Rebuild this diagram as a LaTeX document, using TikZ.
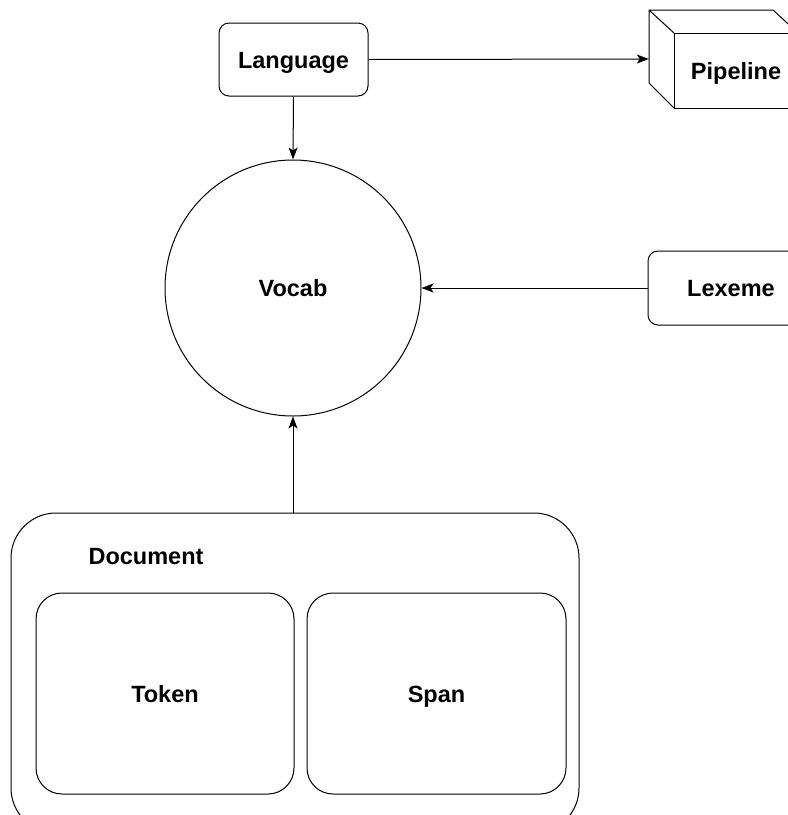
\documentclass[tikz,border=0pt]{standalone}
\usepackage{fontspec}
\setmainfont{Liberation Sans}
\usetikzlibrary{arrows.meta,shapes.geometric}
\tikzset{
  lbl/.style={font=\fontsize{23.5}{27}\selectfont\bfseries, text height=17pt, text depth=0pt},
  roundbox/.style={draw, line width=1pt, rounded corners=10pt, lbl},
  link/.style={draw, line width=1pt, -{Stealth[length=12pt,width=9pt,inset=3pt]}},
}
\begin{document}
\begin{tikzpicture}[x=1pt,y=-1pt]
\useasboundingbox (0,0) rectangle (788,815);
\clip (0,0) rectangle (788,815);
\fill[white] (0,0) rectangle (788,815);

% top row
\node[roundbox, minimum width=149pt, minimum height=73pt] (language) at (293.5,59.5) {Language};

% Pipeline drawn as a cube: back face offset up-left by 25pt
\node[minimum width=149pt, minimum height=98pt, inner sep=0] (pipeline) at (723.5,59) {};
\draw[line width=1pt, line join=round]
  (649,83) -- (649,10) -- (773,10) -- (798,33)
  (649,10) -- (674,33)
  (649,83) -- (674,108);
\node[draw, line width=1pt, minimum width=124pt, minimum height=75pt, lbl] (pipefront) at (736,70.5) {Pipeline};

% centre
\node[draw, circle, line width=1pt, minimum size=256pt, lbl] (vocab) at (293,288) {Vocab};
\node[roundbox, minimum width=164pt, minimum height=74pt] (lexeme) at (730,288) {};
\node[lbl] (lexemetext) at (731,288) {Lexeme};

% Document container
\node[draw, line width=1pt, rounded corners=45pt, minimum width=568pt, minimum height=320pt] (document) at (295,673) {};
\node[lbl] (doctitle) at (146,556) {Document};
\node[draw, line width=1pt, rounded corners=26pt, minimum width=258pt, minimum height=201pt, lbl] (token) at (165,693.5) {Token};
\node[draw, line width=1pt, rounded corners=26pt, minimum width=259pt, minimum height=201pt, lbl] (span) at (436.5,693.5) {Span};

% connectors
\draw[link] (language.east) -- (pipeline.west);
\draw[link] (language.south) -- (vocab.north);
\draw[link] (lexeme.west) -- (vocab.east);
\draw[link] (document.north -| vocab.south) -- (vocab.south);
\end{tikzpicture}
\end{document}
